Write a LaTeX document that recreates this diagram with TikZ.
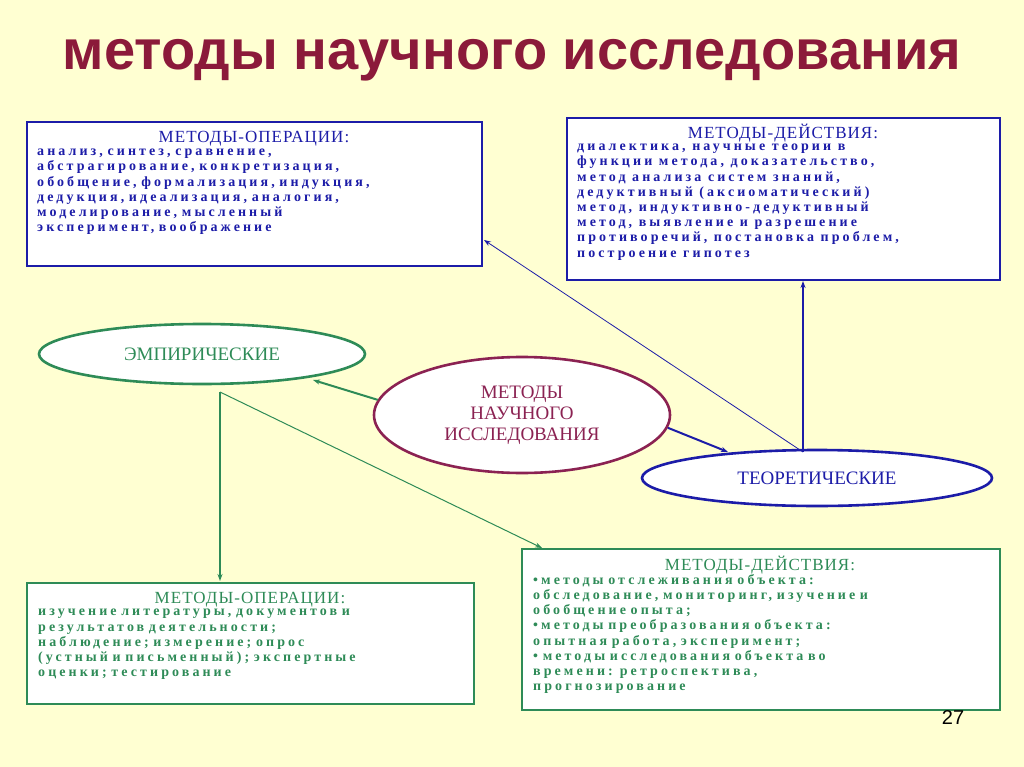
\documentclass[tikz,border=0pt]{standalone}
\usepackage{fontspec}
\setmainfont{Liberation Serif}
\newfontfamily\bodyf[LetterSpace=22]{Liberation Serif}
\newfontfamily\headf[LetterSpace=6]{Liberation Serif}
\newfontfamily\titlef{Liberation Sans}
\usetikzlibrary{arrows.meta,shapes.geometric}
\definecolor{bg}{HTML}{FFFFD2}
\definecolor{bl}{HTML}{1C1CA8}
\definecolor{gr}{HTML}{2E8B57}
\definecolor{mr}{HTML}{8B2252}
\definecolor{tt}{HTML}{8B1A3A}
\newcommand{\jl}[1]{\makebox[\linewidth][s]{#1}\\}
\tikzset{
 box/.style={line width=2.6pt,fill=white},
 body/.style={anchor=north west,inner sep=0pt,align=left,font=\bodyf\bfseries\fontsize{14}{15.2}\selectfont},
 head/.style={inner sep=0pt,font=\headf\fontsize{17}{18}\selectfont},
 ell/.style={draw,ellipse,line width=2.6pt,fill=white,font=\fontsize{19}{21}\selectfont,align=center},
 arr/.style={-{Stealth[length=7pt,width=5pt]}},
}
\begin{document}
\begin{tikzpicture}[x=1pt,y=-1pt]
\fill[bg] (0,0) rectangle (1024,767);
\useasboundingbox (0,0) rectangle (1024,767);
\node[font=\titlef\bfseries\fontsize{56}{60}\selectfont,text=tt] (title) at (512,60) {методы научного исследования};
% top left
\draw[box,draw=bl] (27,122) rectangle (482,266);
\node[head,text=bl] (h1) at (254,139) {МЕТОДЫ-ОПЕРАЦИИ:};
\node[body,text=bl,text width=434pt] (b1) at (37,149) {\jl{анализ, синтез, сравнение,}\jl{абстрагирование, конкретизация,}\jl{обобщение, формализация, индукция,}\jl{дедукция, идеализация, аналогия,}\jl{моделирование, мысленный}эксперимент, воображение};
% top right
\draw[box,draw=bl] (567,118) rectangle (1000,280);
\node[head,text=bl] (h2) at (783,133) {МЕТОДЫ-ДЕЙСТВИЯ:};
\node[body,text=bl] (b2) at (577,144) {диалектика, научные теории в\\функции метода, доказательство,\\метод анализа систем знаний,\\дедуктивный (аксиоматический)\\метод, индуктивно-дедуктивный\\метод, выявление и разрешение\\противоречий, постановка проблем,\\построение гипотез};
% bottom left
\draw[box,draw=gr] (27,583) rectangle (474,704);
\node[head,text=gr] (h3) at (250,600) {МЕТОДЫ-ОПЕРАЦИИ:};
\node[body,text=gr,text width=426pt] (b3) at (38,609) {\jl{изучение литературы, документов и}\jl{результатов деятельности;}\jl{наблюдение; измерение; опрос}\jl{(устный и письменный); экспертные}оценки; тестирование};
% bottom right
\draw[box,draw=gr] (522,549) rectangle (1000,710);
\node[head,text=gr] (h4) at (760,565) {МЕТОДЫ-ДЕЙСТВИЯ:};
\node[body,text=gr,text width=456pt] (b4) at (533,574) {\jl{\textbullet методы отслеживания объекта:}\jl{обследование, мониторинг, изучение и}обобщение опыта;\\\jl{\textbullet методы преобразования объекта:}опытная работа, эксперимент;\\\jl{\textbullet\ методы исследования объекта во}\jl{времени: ретроспектива,}прогнозирование};
% ellipses
\node[ell,draw=gr,text=gr,minimum width=326pt,minimum height=60pt] (emp) at (202,354) {ЭМПИРИЧЕСКИЕ};
\node[ell,draw=mr,text=mr,minimum width=296pt,minimum height=116pt] (ctr) at (522,415) {МЕТОДЫ\\НАУЧНОГО\\ИССЛЕДОВАНИЯ};
\node[ell,draw=bl,text=bl,minimum width=350pt,minimum height=56pt] (teo) at (817,478) {ТЕОРЕТИЧЕСКИЕ};
% connectors
\coordinate (eb) at (220,392);
\coordinate (tt1) at (803,452);
\draw[arr,gr,line width=2pt] (ctr.174) -- (313,380);
\draw[arr,bl,line width=2pt] (ctr.-5) -- (728,452);
\draw[arr,gr,line width=1.2pt] (eb) -- (220,581);
\draw[arr,gr,line width=1pt] (eb) -- (542,548);
\draw[arr,bl,line width=1.2pt] (tt1) -- (803,281);
\draw[arr,bl,line width=0.8pt] (tt1) -- (484,240);
\node[font=\titlef\fontsize{20}{22}\selectfont] (pn) at (953,718) {27};
\end{tikzpicture}
\end{document}
